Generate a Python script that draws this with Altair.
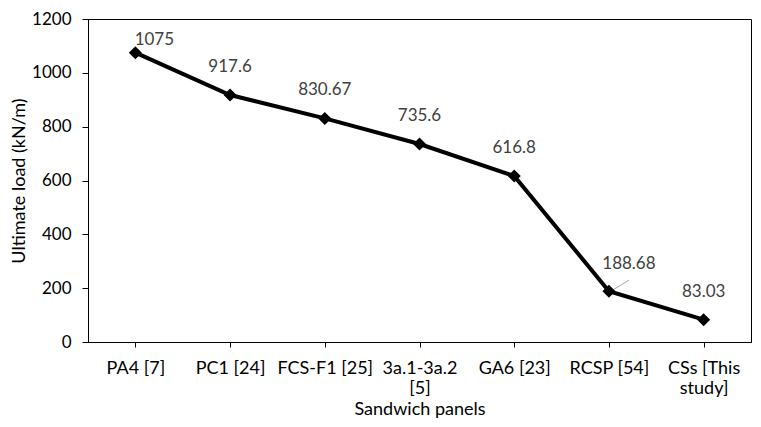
import altair as alt
import pandas as pd

panels = ["PA4 [7]", "PC1 [24]", "FCS-F1 [25]", "3a.1-3a.2 [5]", "GA6 [23]", "RCSP [54]", "CSs [This study]"]
loads = [1075, 917.6, 830.67, 735.6, 616.8, 188.68, 83.03]
load_labels = ["1075", "917.6", "830.67", "735.6", "616.8", "188.68", "83.03"]
y_ticks = [0, 200, 400, 600, 800, 1000, 1200]

df = pd.DataFrame({"panel": panels, "load": loads, "label": load_labels})

FONT = "Lato"
label_expr = (
    "length(datum.label) > 11 ? "
    "[slice(datum.label, 0, lastindexof(datum.label, ' ')), "
    "slice(datum.label, lastindexof(datum.label, ' ') + 1)] : datum.label"
)

x = alt.X(
    "panel:N",
    sort=panels,
    title="Sandwich panels",
    axis=alt.Axis(
        labelAngle=0,
        labelExpr=label_expr,
        labelLineHeight=20,
        tickSize=5,
        labelPadding=12,
        titlePadding=3,
        labelFontSize=18,
        titleFontSize=18,
        labelColor="black",
        titleColor="black",
        domainColor="black",
        tickColor="black",
        labelFont=FONT,
        titleFont=FONT,
        titleFontWeight="normal",
    ),
)
y = alt.Y(
    "load:Q",
    scale=alt.Scale(domain=[0, 1200]),
    title="Ultimate load (kN/m)",
    axis=alt.Axis(
        values=y_ticks,
        format="d",
        grid=False,
        tickSize=6,
        labelPadding=11,
        titlePadding=3,
        labelFontSize=17,
        titleFontSize=18,
        labelColor="black",
        titleColor="black",
        domainColor="black",
        tickColor="black",
        labelFont=FONT,
        titleFont=FONT,
        titleFontWeight="normal",
    ),
)

base = alt.Chart(df).encode(x=x, y=y)

line = base.mark_line(color="black", strokeWidth=4)
pts = base.mark_point(shape="diamond", filled=True, color="black", size=170, opacity=1)

txt = dict(fontSize=17, font=FONT, color="#404040")
labels = base.transform_filter(
    "datum.panel != 'PA4 [7]' && datum.panel != 'RCSP [54]'"
).mark_text(dy=-28, **txt).encode(text="label:N")
lab_first = base.transform_filter(alt.datum.panel == "PA4 [7]").mark_text(
    dx=19, dy=-13, **txt
).encode(text="label:N")
lab_rcsp = base.transform_filter(alt.datum.panel == "RCSP [54]").mark_text(
    dx=20, dy=-27, **txt
).encode(text="label:N")
leader = base.transform_filter(alt.datum.panel == "RCSP [54]").mark_point(
    shape="M0.1,0L1,-0.55", size=1600, filled=False, color="#a6a6a6",
    strokeWidth=1, opacity=1
)

chart = (
    alt.layer(line, leader, pts, labels, lab_first, lab_rcsp)
    .properties(
        width=745,
        height=411,
        autosize=alt.AutoSizeParams(type="fit", contains="padding"),
        padding={"left": 2, "top": 2, "right": 2, "bottom": 1},
        background="white",
    )
    .configure_view(stroke="black", strokeWidth=1)
)

chart.save("out.html", embed_options={"renderer": "svg", "actions": False})
